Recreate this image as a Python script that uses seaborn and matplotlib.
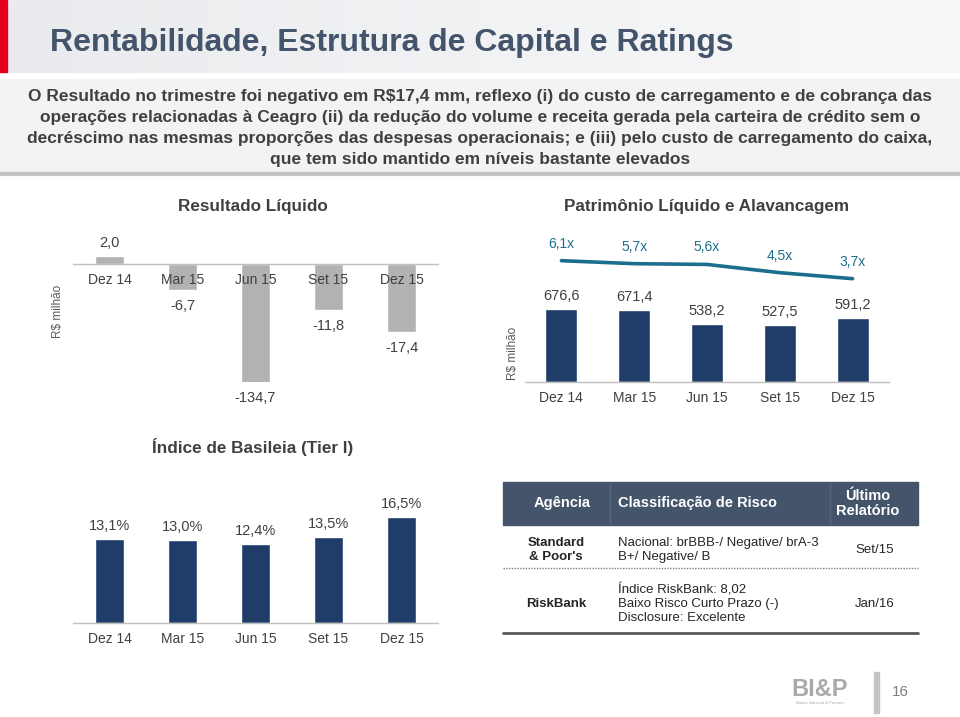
import numpy as np
import pandas as pd
import matplotlib
matplotlib.use("Agg")
import matplotlib.pyplot as plt
import seaborn as sns
from matplotlib.patches import Rectangle
from matplotlib.colors import LinearSegmentedColormap

# ---------------- data ----------------
periods = ["Dez 14", "Mar 15", "Jun 15", "Set 15", "Dez 15"]
resultado = [2.0, -6.7, -134.7, -11.8, -17.4]
patrimonio = [676.6, 671.4, 538.2, 527.5, 591.2]
alavancagem = [6.1, 5.7, 5.6, 4.5, 3.7]
basileia = [13.1, 13.0, 12.4, 13.5, 16.5]

slide_title = "Rentabilidade, Estrutura de Capital e Ratings"
subtitle_lines = [
    "O Resultado no trimestre foi negativo em R$17,4 mm, reflexo (i) do custo de carregamento e de cobrança das",
    "operações relacionadas à Ceagro (ii) da redução do volume e receita gerada pela carteira de crédito sem o",
    "decréscimo nas mesmas proporções das despesas operacionais; e (iii) pelo custo de carregamento do caixa,",
    "que tem sido mantido em níveis bastante elevados",
]
chart_titles = ["Resultado Líquido", "Patrimônio Líquido e Alavancagem", "Índice de Basileia (Tier I)"]
ylabel_text = "R$ milhão"
table_header = ["Agência", "Classificação de Risco", "Último\nRelatório"]
table_agencies = ["Standard\n& Poor's", "RiskBank"]
table_ratings = ["Nacional: brBBB-/ Negative/ brA-3\nB+/ Negative/ B",
                 "Índice RiskBank: 8,02\nBaixo Risco Curto Prazo (-)\nDisclosure: Excelente"]
table_dates = ["Set/15", "Jan/16"]
page_number = "16"

# ---------------- setup ----------------
W, H = 960, 717
sns.set_theme(style="white")
plt.rcParams["font.family"] = ["Liberation Sans", "DejaVu Sans"]

TXT = "#404040"
GRAY_BAR = "#b2b2b2"
NAVY = "#1f3d68"
TEAL = "#1c6f8c"
AXIS = "#bfbfbf"

fig = plt.figure(figsize=(9.6, 7.17), dpi=100)
bg = fig.add_axes([0, 0, 1, 1], zorder=0)
bg.set_xlim(0, W)
bg.set_ylim(H, 0)
bg.axis("off")


def fax(x0, y0, x1, y1):
    a = fig.add_axes([x0 / W, 1 - y1 / H, (x1 - x0) / W, (y1 - y0) / H], zorder=1)
    a.patch.set_alpha(0)
    return a


def fmt(v):
    return f"{v:.1f}".replace(".", ",")


# ---------------- header ----------------
grad = np.linspace(0, 1, 256)[None, :]
cm = LinearSegmentedColormap.from_list("hdr", ["#eaebee", "#f1f2f4", "#f8f8f9"])
bg.imshow(grad, extent=[0, W, 73, 0], aspect="auto", cmap=cm, zorder=0)
bg.add_patch(Rectangle((0, 0), 7, 72, color="#e2001a", zorder=1))
bg.text(50, 43, slide_title, fontsize=23, fontweight="bold", color="#44546a",
        ha="left", va="center", zorder=2)
bg.add_patch(Rectangle((0, 79), W, 93, color="#f2f3f5", zorder=0.5))
bg.plot([0, W], [173.5, 173.5], color="#b5b5b5", lw=3, alpha=0.8, zorder=1)
for i, line in enumerate(subtitle_lines):
    bg.text(480, 96 + i * 21.3, line, fontsize=12.5, fontweight="bold", color=TXT,
            ha="center", va="center", zorder=2)

# ---------------- chart titles ----------------
bg.text(253, 207, chart_titles[0], fontsize=12.3, fontweight="bold", color=TXT, ha="center", va="center")
bg.text(707, 207, chart_titles[1], fontsize=12.3, fontweight="bold", color=TXT, ha="center", va="center")
bg.text(253, 447, chart_titles[2], fontsize=12.3, fontweight="bold", color=TXT, ha="center", va="center")
bg.text(58, 311, ylabel_text, fontsize=8.5, color="#595959", rotation=90, ha="center", va="center")
bg.text(513, 353, ylabel_text, fontsize=8.5, color="#595959", rotation=90, ha="center", va="center")


def style_axis(ax, baseline=0):
    ax.set_axisbelow(False)
    ax.set_xlabel("")
    ax.set_ylabel("")
    ax.set_yticks([])
    for s in ["left", "right", "top"]:
        ax.spines[s].set_visible(False)
    ax.spines["bottom"].set_position(("data", baseline))
    ax.spines["bottom"].set_color(AXIS)
    ax.spines["bottom"].set_linewidth(1)
    ax.set_xticks(range(len(periods)))
    ax.set_xticklabels(periods)
    ax.set_xticks(np.arange(-0.5, len(periods)), minor=True)
    ax.tick_params(axis="x", which="major", length=0, pad=6.5, labelsize=10, labelcolor=TXT)
    ax.tick_params(axis="x", which="minor", length=4, width=1, color=AXIS, direction="out")
    ax.set_xlim(-0.5, len(periods) - 0.5)


# ---------------- chart 1: Resultado Líquido ----------------
ax1 = fax(73, 236, 438, 382)
df1 = pd.DataFrame({"periodo": periods, "valor": resultado})
sns.barplot(data=df1, x="periodo", y="valor", ax=ax1, color=GRAY_BAR, width=0.4,
            saturation=1, errorbar=None, zorder=1)
ax1.set_ylim(-30.4, 7.2)
style_axis(ax1, 0)
lo = ax1.get_ylim()[0]
for i, v in enumerate(resultado):
    if v >= 0:
        ax1.annotate(fmt(v), (i, v), xytext=(0, 13), textcoords="offset pixels",
                     ha="center", va="center", fontsize=10.5, color=TXT, annotation_clip=False)
    else:
        ax1.annotate(fmt(v), (i, max(v, lo)), xytext=(0, -16), textcoords="offset pixels",
                     ha="center", va="center", fontsize=10.5, color=TXT, annotation_clip=False)

# ---------------- chart 2: Patrimônio Líquido e Alavancagem ----------------
ax2 = fax(525, 236, 889, 382)
df2 = pd.DataFrame({"periodo": periods, "valor": patrimonio})
sns.barplot(data=df2, x="periodo", y="valor", ax=ax2, color=NAVY, width=0.44,
            saturation=1, errorbar=None)
ax2.set_ylim(0, 1353)
style_axis(ax2, 0)
for i, v in enumerate(patrimonio):
    ax2.annotate(fmt(v), (i, v), xytext=(0, 13), textcoords="offset pixels",
                 ha="center", va="center", fontsize=10.5, color=TXT, annotation_clip=False)

ax2b = ax2.twinx()
ax2b.patch.set_alpha(0)
sns.lineplot(x=np.arange(len(periods)), y=alavancagem, ax=ax2b, color=TEAL, linewidth=2.6)
ax2b.set_ylim(-10.07, 9.39)
ax2b.set_yticks([])
ax2b.set_ylabel("")
for s in ["left", "right", "top", "bottom"]:
    ax2b.spines[s].set_visible(False)
for i, v in enumerate(alavancagem):
    ax2b.annotate(fmt(v) + "x", (i, v), xytext=(0, 17), textcoords="offset pixels",
                  ha="center", va="center", fontsize=10, color=TEAL, annotation_clip=False)
ax2.set_xlim(-0.5, len(periods) - 0.5)

# ---------------- chart 3: Índice de Basileia ----------------
ax3 = fax(73, 490, 438, 623)
df3 = pd.DataFrame({"periodo": periods, "valor": basileia})
sns.barplot(data=df3, x="periodo", y="valor", ax=ax3, color=NAVY, width=0.4,
            saturation=1, errorbar=None)
ax3.set_ylim(0, 20.8)
style_axis(ax3, 0)
for i, v in enumerate(basileia):
    ax3.annotate(fmt(v) + "%", (i, v), xytext=(0, 13), textcoords="offset pixels",
                 ha="center", va="center", fontsize=10.5, color=TXT, annotation_clip=False)

# ---------------- ratings table ----------------
bg.add_patch(Rectangle((503, 482), 415, 43, color="#44546a", zorder=1))
for xs in (610, 830):
    bg.plot([xs, xs], [482, 525], color="#55657c", lw=1, zorder=2)
bg.text(562, 503.5, table_header[0], fontsize=10.5, fontweight="bold", color="white", ha="center", va="center", zorder=3)
bg.text(618, 503.5, table_header[1], fontsize=10.5, fontweight="bold", color="white", ha="left", va="center", zorder=3)
bg.text(868, 503.5, table_header[2], fontsize=10.5, fontweight="bold", color="white", ha="center", va="center",
        linespacing=1.15, zorder=3)
row_y = [550, 604]
for k in range(len(table_agencies)):
    bg.text(556, row_y[k], table_agencies[k], fontsize=9.5, fontweight="bold", color="#262626",
            ha="center", va="center", linespacing=1.2)
    bg.text(618, row_y[k], table_ratings[k], fontsize=9.5, color="#262626",
            ha="left", va="center", linespacing=1.2)
    bg.text(875, row_y[k], table_dates[k], fontsize=9.5, color="#262626", ha="center", va="center")
bg.plot([503, 918], [568, 568], color="#808080", lw=1, ls=(0, (1, 1)))
bg.plot([503, 918], [633, 633], color="#595959", lw=2)

# ---------------- footer ----------------
bg.text(820, 689, "BI&P", fontsize=17, fontweight="bold", color="#a9a9a9", ha="center", va="center")
bg.text(820, 703, "Banco Indusval & Partners", fontsize=3, color="#a9a9a9", ha="center", va="center")
bg.add_patch(Rectangle((874, 672), 5, 41, color="#c4c4c4"))
bg.text(900, 692, page_number, fontsize=11, color="#7f7f7f", ha="center", va="center")

fig.savefig("out.png", dpi=100)
